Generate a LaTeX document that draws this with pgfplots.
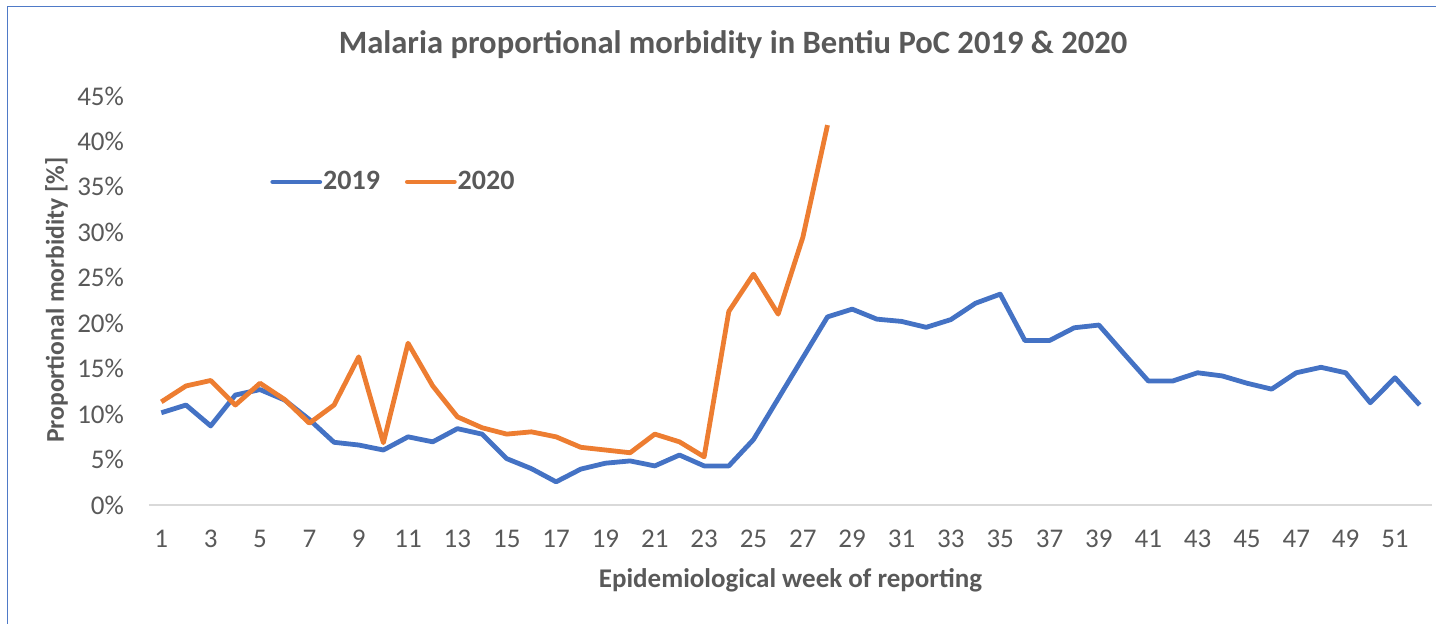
\documentclass[border=0pt]{standalone}
\usepackage{pgfplots}
\pgfplotsset{compat=1.18}
\usepackage{pgfplotstable}
\usepackage{fontspec}
\setmainfont{Carlito}

\definecolor{line19}{HTML}{4472C4}
\definecolor{line20}{HTML}{ED7D31}
\definecolor{txtgray}{HTML}{595959}
\definecolor{axgray}{HTML}{D9D9D9}
\definecolor{framecol}{HTML}{4F7AC7}

% proportional morbidity [%] by epi week
\pgfplotstableread{
week val
1  10.15
2  11.0
3  8.7
4  12.1
5  12.7
6  11.55
7  9.4
8  6.9
9  6.6
10 6.05
11 7.5
12 6.95
13 8.4
14 7.8
15 5.1
16 4.0
17 2.55
18 3.95
19 4.6
20 4.85
21 4.3
22 5.5
23 4.3
24 4.3
25 7.2
26 11.7
27 16.2
28 20.7
29 21.55
30 20.45
31 20.2
32 19.55
33 20.4
34 22.2
35 23.2
36 18.1
37 18.1
38 19.5
39 19.8
40 16.7
41 13.65
42 13.65
43 14.55
44 14.2
45 13.4
46 12.75
47 14.55
48 15.15
49 14.55
50 11.25
51 14.0
52 11.0
}\tabA

\pgfplotstableread{
week val
1  11.35
2  13.1
3  13.7
4  11.0
5  13.4
6  11.6
7  9.0
8  11.0
9  16.3
10 6.85
11 17.8
12 13.1
13 9.7
14 8.5
15 7.8
16 8.05
17 7.5
18 6.35
19 6.05
20 5.75
21 7.8
22 6.95
23 5.3
24 21.3
25 25.4
26 21.0
27 29.45
28 41.8
}\tabB

\begin{document}
\begin{tikzpicture}
\useasboundingbox (-74.5pt,-59pt) rectangle (643.5pt,252.5pt);
\draw[framecol, line width=0.8pt] (-70.75pt,-60pt) -- (-70.75pt,249.25pt) -- (644pt,249.25pt);
\begin{axis}[
  at={(0,0)}, anchor=south west,
  width=641.5pt, height=204.5pt, scale only axis,
  xmin=0.5, xmax=52.5, ymin=0, ymax=45,
  separate axis lines,
  axis x line*=bottom, axis y line*=left,
  x axis line style={draw=axgray, line width=1pt, -},
  y axis line style={draw=none},
  major tick length=0pt,
  xtick={1,3,...,51},
  ytick={0,5,...,45},
  yticklabels={0\%,5\%,10\%,15\%,20\%,25\%,30\%,35\%,40\%,45\%},
  /pgf/number format/assume math mode=true,
  tick label style={font=\fontsize{13.5}{15}\selectfont, text=txtgray},
  yticklabel style={xshift=-9pt},
  xticklabel style={yshift=-9pt},
  legend columns=2,
  legend style={draw=none, fill=none, inner sep=0pt,
    at={(0.0943,0.79)}, anchor=west,
    font=\fontsize{14}{16}\selectfont\bfseries, text=txtgray,
    nodes={inner sep=0.5pt},
    /tikz/every even column/.append style={column sep=12pt}},
  legend image code/.code={\draw[#1, line cap=round] (0pt,0pt) -- (23.5pt,0pt);},
  every axis plot/.append style={line width=2.4pt, line join=round},
]
\addplot[line19, mark=none] table[x=week, y=val] {\tabA};
\addlegendentry{2019}
\addplot[line20, mark=none] table[x=week, y=val] {\tabB};
\addlegendentry{2020}
\end{axis}
\node[text=txtgray, font=\fontsize{16.3}{18}\selectfont\bfseries] at (292pt,230pt) {Malaria proportional morbidity in Bentiu PoC 2019 \& 2020};
\node[text=txtgray, font=\fontsize{13.5}{15}\selectfont\bfseries] at (320.75pt,-37.5pt) {Epidemiological week of reporting};
\node[text=txtgray, font=\fontsize{12.8}{14}\selectfont\bfseries, rotate=90] at (-46.2pt,102.5pt) {Proportional morbidity [\%]};
\end{tikzpicture}
\end{document}
